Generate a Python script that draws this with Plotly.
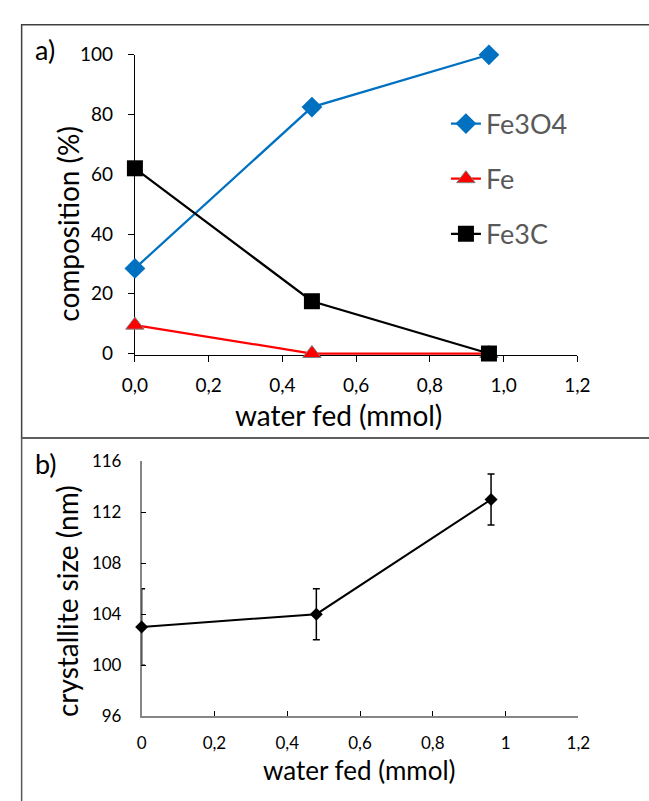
import plotly.graph_objects as go

W, H = 649, 801

# ---- data panel a ----
water_a = [0.0, 0.48, 0.96]
fe3o4 = [28.5, 82.5, 100.0]
fe = [9.5, 0.0, 0.0]
fe3c = [62.0, 17.5, 0.0]
xa_ticks = [0, 0.2, 0.4, 0.6, 0.8, 1.0, 1.2]
xa_text = ["0,0", "0,2", "0,4", "0,6", "0,8", "1,0", "1,2"]
ya_ticks = [0, 20, 40, 60, 80, 100]

# ---- data panel b ----
water_b = [0.0, 0.48, 0.96]
size_nm = [103.0, 104.0, 113.0]
size_err = [3.0, 2.0, 2.0]
xb_ticks = [0, 0.2, 0.4, 0.6, 0.8, 1.0, 1.2]
xb_text = ["0", "0,2", "0,4", "0,6", "0,8", "1", "1,2"]
yb_ticks = [96, 100, 104, 108, 112, 116]

FONT = "Lato"

def px(x):
    return x / W

def py(y):
    return 1 - y / H

fig = go.Figure()

fig.add_trace(go.Scatter(x=water_a, y=fe3o4, name="Fe3O4", mode="lines+markers",
                         line=dict(color="#0070C0", width=2.25),
                         marker=dict(symbol="diamond", size=16, color="#0070C0"),
                         cliponaxis=False, xaxis="x", yaxis="y", legendgroup="g1"))
fig.add_trace(go.Scatter(x=water_a, y=fe, name="Fe", mode="lines+markers",
                         line=dict(color="#FF0000", width=2.25),
                         marker=dict(symbol="triangle-up", size=16, color="#FF0000",
                                     line=dict(color="#7f7f7f", width=1)),
                         cliponaxis=False, xaxis="x", yaxis="y", legendgroup="g2"))
fig.add_trace(go.Scatter(x=water_a, y=fe3c, name="Fe3C", mode="lines+markers",
                         line=dict(color="#000000", width=2.25),
                         marker=dict(symbol="square", size=16, color="#000000"),
                         cliponaxis=False, xaxis="x", yaxis="y", legendgroup="g3"))

fig.add_trace(go.Scatter(x=water_b, y=size_nm, mode="lines+markers", showlegend=False,
                         line=dict(color="#000000", width=2),
                         marker=dict(symbol="diamond", size=10, color="#000000"),
                         error_y=dict(type="data", array=size_err, visible=True,
                                      color="#000000", thickness=1.5, width=3.5),
                         cliponaxis=False, xaxis="x2", yaxis="y2"))

tickfont_a = dict(family=FONT, size=19, color="#000000")
tickfont_b = dict(family=FONT, size=17, color="#000000")

fig.update_layout(
    width=W, height=H,
    margin=dict(l=0, r=0, t=0, b=0),
    paper_bgcolor="white", plot_bgcolor="white",
    font=dict(family=FONT),
    xaxis=dict(domain=[px(127), px(588)], range=[0, 1.2], anchor="y",
               tickvals=xa_ticks, ticktext=xa_text, tickfont=tickfont_a,
               showgrid=False, zeroline=False, showline=True, linecolor="#000000", linewidth=1,
               ticks="outside", ticklen=6, tickcolor="#000000", layer="below traces",
               ticklabelstandoff=7),
    yaxis=dict(domain=[py(353), py(44)], range=[-0.6, 100], anchor="x",
               tickvals=ya_ticks, tickfont=tickfont_a,
               showgrid=False, zeroline=False, showline=True, linecolor="#000000", linewidth=1,
               ticks="outside", ticklen=6, tickcolor="#000000", layer="below traces",
               ticklabelstandoff=11),
    xaxis2=dict(domain=[px(134), px(589)], range=[0, 1.2], anchor="y2",
                tickvals=xb_ticks, ticktext=xb_text, tickfont=tickfont_b,
                showgrid=False, zeroline=False, showline=True, linecolor="#868686", linewidth=1.5,
                ticks="inside", ticklen=5, tickcolor="#000000", layer="below traces",
                ticklabelstandoff=11),
    yaxis2=dict(domain=[py(724), py(462)], range=[96, 116], anchor="x2",
                tickvals=yb_ticks, tickfont=tickfont_b,
                showgrid=False, zeroline=False, showline=True, linecolor="#868686", linewidth=1.5,
                ticks="inside", ticklen=5, tickcolor="#000000", layer="below traces",
                ticklabelstandoff=15),
    legend=dict(x=px(451), y=py(90), xanchor="left", yanchor="top",
                font=dict(family=FONT, size=27, color="#595959"),
                bgcolor="rgba(0,0,0,0)", tracegroupgap=17, itemwidth=30),
    shapes=[
        dict(type="rect", xref="paper", yref="paper", x0=px(9), x1=px(700), y0=py(438), y1=py(13),
             line=dict(color="#404040", width=1.5)),
        dict(type="rect", xref="paper", yref="paper", x0=px(9), x1=px(700), y0=py(850), y1=py(438),
             line=dict(color="#595959", width=1.5)),
    ],
    annotations=[
        dict(text="a)", xref="paper", yref="paper", x=px(21), y=py(39), xanchor="left", yanchor="middle",
             showarrow=False, font=dict(family=FONT, size=27, color="#000000")),
        dict(text="b)", xref="paper", yref="paper", x=px(21), y=py(464), xanchor="left", yanchor="middle",
             showarrow=False, font=dict(family=FONT, size=27, color="#000000")),
        # axis titles
        dict(text="composition (%)", xref="paper", yref="paper", x=px(57), y=py(218),
             xanchor="center", yanchor="middle", textangle=-90, showarrow=False,
             font=dict(family=FONT, size=28, color="#000000")),
        dict(text="water fed (mmol)", xref="paper", yref="paper", x=px(339), y=py(414),
             xanchor="center", yanchor="middle", showarrow=False,
             font=dict(family=FONT, size=28, color="#000000")),
        dict(text="crystallite size (nm)", xref="paper", yref="paper", x=px(57), y=py(606),
             xanchor="center", yanchor="middle", textangle=-90, showarrow=False,
             font=dict(family=FONT, size=28, color="#000000")),
        dict(text="water fed (mmol)", xref="paper", yref="paper", x=px(361), y=py(779),
             xanchor="center", yanchor="middle", showarrow=False,
             font=dict(family=FONT, size=26, color="#000000")),
    ],
)

fig.write_html("out.html")
